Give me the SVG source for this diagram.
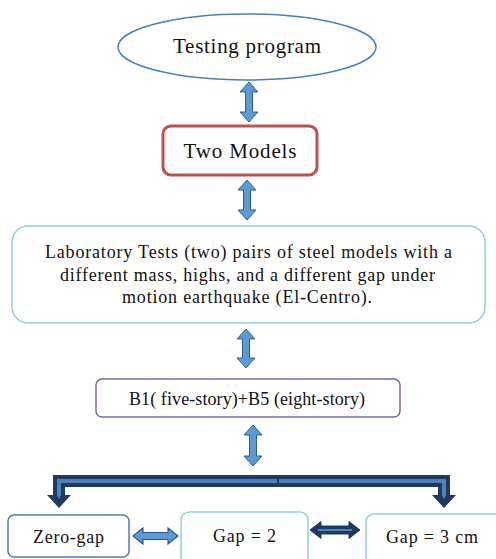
<svg xmlns="http://www.w3.org/2000/svg" width="496" height="559" viewBox="0 0 496 559">
<style>
text{fill:#111;text-anchor:middle}
.big{font-size:21px}
.mid{font-size:18px}
.varrow{fill:#5b9bd5;stroke:#2f5f8f;stroke-width:1}
</style>
<rect width="496" height="559" fill="#fff"/>
<g id="connectors">
<path class="varrow" d="M249,82 L258,92 L252.5,92 L252.5,112 L258,112 L249,122 L240,112 L245.5,112 L245.5,92 L240,92 Z"/>
<path class="varrow" d="M247,180 L256,190 L250.5,190 L250.5,210 L256,210 L247,220 L238,210 L243.5,210 L243.5,190 L238,190 Z"/>
<path class="varrow" d="M246,329 L255,339 L249.5,339 L249.5,358 L255,358 L246,368 L237,358 L242.5,358 L242.5,339 L237,339 Z"/>
<path class="varrow" d="M253,425 L262,435 L256.5,435 L256.5,456 L262,456 L253,466 L244,456 L249.5,456 L249.5,435 L244,435 Z"/>
<g id="bracket">
<path d="M278,481 L59,481 L59,496" fill="none" stroke="#1f3a5f" stroke-width="12" stroke-linejoin="miter"/>
<path d="M278,481 L444,481 L444,496" fill="none" stroke="#1f3a5f" stroke-width="12" stroke-linejoin="miter"/>
<path d="M277,481 L59,481 L59,497" fill="none" stroke="#4f81bd" stroke-width="4" stroke-linejoin="miter"/>
<path d="M279,481 L444,481 L444,497" fill="none" stroke="#4f81bd" stroke-width="4" stroke-linejoin="miter"/>
<polygon points="47,495 71,495 59,508" fill="#1f3a5f"/>
<polygon points="57,495 61,495 59,499" fill="#4f81bd"/>
<polygon points="432,495 456,495 444,508" fill="#1f3a5f"/>
<polygon points="442,495 446,495 444,499" fill="#4f81bd"/>
</g>
<path d="M133,536 L143,528 L143,532.5 L168,532.5 L168,528 L178,536 L168,544 L168,539.5 L143,539.5 L143,544 Z" fill="#5b9bd5" stroke="#2f5597" stroke-width="1.2"/>
<path d="M310,530 L321,521.5 L321,526 L349,526 L349,521.5 L360,530 L349,538.5 L349,534 L321,534 L321,538.5 Z" fill="#1f3a5f" stroke="#1f3a5f" stroke-width="1"/>
<line x1="318" y1="530" x2="352" y2="530" stroke="#4f81bd" stroke-width="2"/>
</g>
<g id="testing-program">
<ellipse cx="247" cy="47" rx="129" ry="33" fill="#fff" stroke="#4a7ebb" stroke-width="1.5"/>
<text class="big" font-family="Liberation Serif" x="247" y="53" textLength="148" lengthAdjust="spacing">Testing program</text>
</g>
<g id="two-models">
<rect x="163" y="126" width="154" height="49" rx="8" fill="#fff" stroke="#c0504d" stroke-width="3"/>
<text class="big" font-family="Liberation Serif" x="240" y="158" textLength="113" lengthAdjust="spacing">Two Models</text>
</g>
<g id="lab-tests">
<rect x="12" y="226" width="473" height="97" rx="16" fill="#fff" stroke="#92cddc" stroke-width="1.5"/>
<text class="mid" font-family="Liberation Serif" x="248.5" y="258" textLength="407" lengthAdjust="spacing">Laboratory Tests (two) pairs of steel models with a</text>
<text class="mid" font-family="Liberation Serif" x="247.5" y="281" textLength="375" lengthAdjust="spacing">different mass, highs, and a different gap under</text>
<text class="mid" font-family="Liberation Serif" x="247" y="303" textLength="250" lengthAdjust="spacing">motion earthquake (El-Centro).</text>
</g>
<g id="b1-b5">
<rect x="96" y="379" width="304" height="38" rx="6" fill="#fff" stroke="#8064a2" stroke-width="1.5"/>
<text class="mid" font-family="Liberation Serif" x="247" y="405" textLength="236" lengthAdjust="spacing">B1( five-story)+B5 (eight-story)</text>
</g>
<g id="zero-gap">
<rect x="8" y="515" width="121" height="42" rx="6" fill="#fff" stroke="#4a7ebb" stroke-width="1.5"/>
<text class="mid" font-family="Liberation Serif" x="68.5" y="543" textLength="71" lengthAdjust="spacing">Zero-gap</text>
</g>
<g id="gap-2">
<rect x="181" y="512" width="127" height="60" rx="8" fill="#fff" stroke="#92cddc" stroke-width="1.5"/>
<text class="mid" font-family="Liberation Serif" x="244.5" y="542" textLength="63" lengthAdjust="spacing">Gap = 2</text>
</g>
<g id="gap-3">
<rect x="366" y="514" width="140" height="60" rx="8" fill="#fff" stroke="#92cddc" stroke-width="1.5"/>
<text class="mid" font-family="Liberation Serif" x="432" y="543" textLength="92" lengthAdjust="spacing">Gap = 3 cm</text>
</g>
</svg>
